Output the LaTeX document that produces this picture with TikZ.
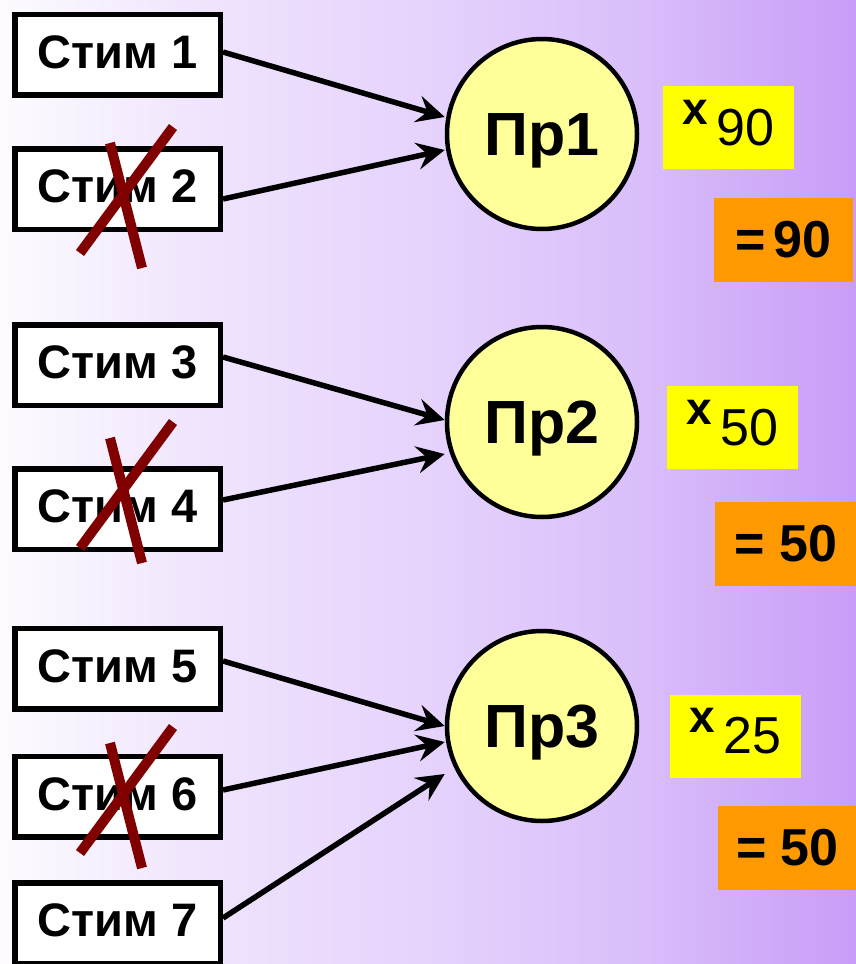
\documentclass[tikz,border=0pt]{standalone}
\usepackage{fontspec}
\setmainfont{Liberation Sans}
\usetikzlibrary{arrows.meta}
\definecolor{crossred}{RGB}{128,0,0}
\definecolor{circfill}{RGB}{255,255,153}
\definecolor{yboxc}{RGB}{255,255,0}
\definecolor{oboxc}{RGB}{255,153,0}
\definecolor{bgA}{RGB}{253,251,255}
\definecolor{bgB}{RGB}{239,227,253}
\definecolor{bgC}{RGB}{229,211,252}
\definecolor{bgD}{RGB}{217,190,250}
\definecolor{bgE}{RGB}{200,156,248}
\pgfdeclarehorizontalshading{bgshade}{100bp}{color(0bp)=(bgA); color(25bp)=(bgA); color(37.5bp)=(bgB); color(50bp)=(bgC); color(62.5bp)=(bgD); color(75bp)=(bgE); color(100bp)=(bgE)}
\tikzset{
  stim/.style={draw, line width=5.5pt, fill=white, minimum width=205.5pt, minimum height=80.5pt, inner sep=0pt,
    font=\fontsize{47}{50}\selectfont\bfseries, text height=27pt, text depth=0pt},
  proc/.style={circle, draw, line width=4.5pt, fill=circfill, minimum size=190pt, inner sep=0pt,
    font=\fontsize{61}{64}\selectfont\bfseries, text height=42pt, text depth=0pt},
  mult/.style={fill=yboxc, minimum width=131pt, minimum height=83pt, inner sep=0pt,
    text height=35pt, text depth=0pt, font=\fontsize{52}{55}\selectfont},
  res/.style={fill=oboxc, minimum height=84pt, inner sep=0pt,
    text height=34pt, text depth=0pt, font=\fontsize{52}{55}\selectfont\bfseries},
  link/.style={line width=5.5pt, -{Stealth[length=28pt,width=27pt,inset=10pt]}},
  strike/.style={line width=10pt, draw=crossred}
}
\newcommand{\xmark}{\raisebox{21pt}{\fontsize{46}{48}\selectfont\bfseries x}\hspace{8pt}}
\begin{document}
\begin{tikzpicture}[x=1pt,y=-1pt]
\useasboundingbox (0,0) rectangle (856,964);
\shade[shading=bgshade] (0,0) rectangle (856,964);

% stimulus boxes
\node[stim] (s1) at (117.5,54.5) {Стим 1};
\node[stim] (s2) at (117.5,189) {Стим 2};
\node[stim] (s3) at (117.5,365) {Стим 3};
\node[stim] (s4) at (117.5,509) {Стим 4};
\node[stim] (s5) at (117.5,668.5) {Стим 5};
\node[stim] (s6) at (117.5,796.5) {Стим 6};
\node[stim] (s7) at (117.5,923) {Стим 7};

% processing circles
\node[proc] (c1) at (542,134) {Пр1};
\node[proc] (c2) at (542,422) {Пр2};
\node[proc] (c3) at (542,726) {Пр3};

% multiplier boxes
\node[mult] (m1) at (728.5,127.5) {\xmark 90};
\node[mult] (m2) at (732.5,427.5) {\xmark 50};
\node[mult] (m3) at (735.5,736) {\xmark 25};

% result boxes
\node[res, minimum width=139pt] (r1) at (783.5,240) {=\hspace{7pt}90};
\node[res, minimum width=142pt] (r2) at (786,544) {= 50};
\node[res, minimum width=139pt] (r3) at (787.5,848) {= 50};

% connectors
\draw[link] ([yshift=2.5pt]s1.east) -- ([yshift=17pt]c1.west);
\draw[link] ([yshift=-10pt]s2.east) -- ([yshift=-16pt]c1.west);
\draw[link] ([yshift=8pt]s3.east) -- ([yshift=2pt]c2.west);
\draw[link] ([yshift=9pt]s4.east) -- ([yshift=-32pt]c2.west);
\draw[link] ([yshift=7.5pt]s5.east) -- (c3.west);
\draw[link] ([yshift=6.5pt]s6.east) -- ([yshift=-16pt]c3.west);
\draw[link] ([yshift=5pt]s7.east) -- ([yshift=-48pt]c3.west);

% crosses
\draw[strike] (80,253) -- (173,127);
\draw[strike] (110,143) -- (142,268);
\draw[strike] (80,548) -- (173,422);
\draw[strike] (110,438) -- (142,563);
\draw[strike] (80,853) -- (173,727);
\draw[strike] (110,743) -- (142,868);
\end{tikzpicture}
\end{document}
